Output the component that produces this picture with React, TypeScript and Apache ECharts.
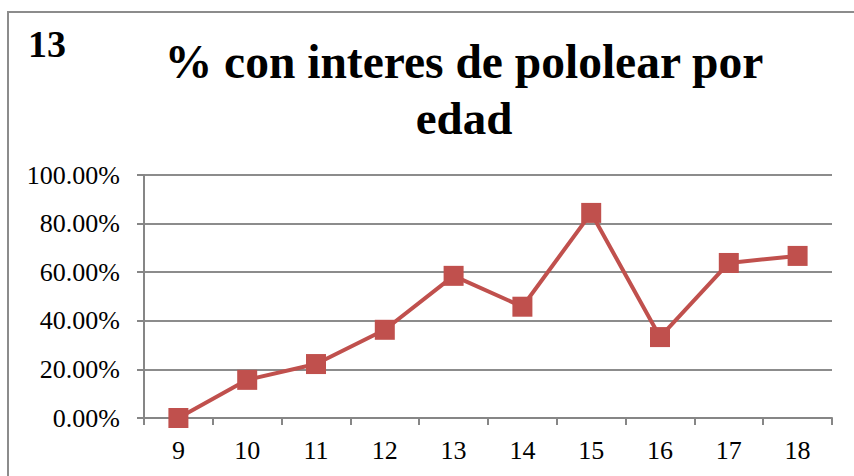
import React, { useEffect, useRef } from "react";
import * as echarts from "echarts";

const categories = ["9", "10", "11", "12", "13", "14", "15", "16", "17", "18"];
const values = [0, 0.157, 0.222, 0.363, 0.585, 0.458, 0.844, 0.333, 0.638, 0.667];
const chartTitleLines = ["% con interes de pololear por", "edad"];
const cornerLabel = "13";

export default function App() {
  const ref = useRef<HTMLDivElement>(null);
  useEffect(() => {
    if (!ref.current) return;
    const chart = echarts.init(ref.current, undefined, { renderer: "svg" });
    const font = "Liberation Serif";
    chart.setOption({
      animation: false,
      backgroundColor: "#ffffff",
      textStyle: { fontFamily: font },
      grid: { left: 144, right: 22, top: 175, bottom: 58 },
      graphic: [
        {
          type: "rect",
          shape: { x: 8, y: 12, width: 900, height: 500 },
          style: { fill: "none", stroke: "#8c8c8c", lineWidth: 2 },
          silent: true,
        },
        {
          type: "text",
          x: 28,
          y: 44,
          style: {
            text: cornerLabel,
            fontFamily: font,
            fontWeight: "bold",
            fontSize: 38,
            fill: "#000",
            verticalAlign: "middle",
            align: "left",
          },
        },
        {
          type: "text",
          x: 464,
          y: 62,
          style: {
            text: chartTitleLines[0],
            fontFamily: font,
            fontWeight: "bold",
            fontSize: 47.5,
            fill: "#000",
            verticalAlign: "middle",
            align: "center",
          },
        },
        {
          type: "text",
          x: 464,
          y: 118,
          style: {
            text: chartTitleLines[1],
            fontFamily: font,
            fontWeight: "bold",
            fontSize: 47,
            fill: "#000",
            verticalAlign: "middle",
            align: "center",
          },
        },
      ],
      xAxis: {
        type: "category",
        data: categories,
        boundaryGap: true,
        axisLine: { lineStyle: { color: "#868686", width: 2 } },
        axisTick: { show: true, length: 7, lineStyle: { color: "#868686", width: 2 } },
        axisLabel: { color: "#000", fontSize: 26, fontFamily: font, margin: 19 },
        splitLine: { show: false },
      },
      yAxis: {
        type: "value",
        min: 0,
        max: 1,
        interval: 0.2,
        axisLine: { show: true, lineStyle: { color: "#868686", width: 2 } },
        axisTick: { show: true, length: 7, lineStyle: { color: "#868686", width: 2 } },
        axisLabel: {
          color: "#000",
          fontSize: 26,
          fontFamily: font,
          margin: 24,
          formatter: (v: number) => (v * 100).toFixed(2) + "%",
        },
        splitLine: { show: true, lineStyle: { color: "#8c8c8c", width: 2 } },
      },
      series: [
        {
          type: "line",
          data: values,
          symbol: "rect",
          symbolSize: 20,
          lineStyle: { color: "#C0504D", width: 4 },
          itemStyle: { color: "#C0504D" },
          z: 5,
        },
      ],
    });
    return () => chart.dispose();
  }, []);
  return (
    <div
      ref={ref}
      style={{ position: "fixed", left: 0, top: 0, width: 854, height: 476 }}
    />
  );
}
